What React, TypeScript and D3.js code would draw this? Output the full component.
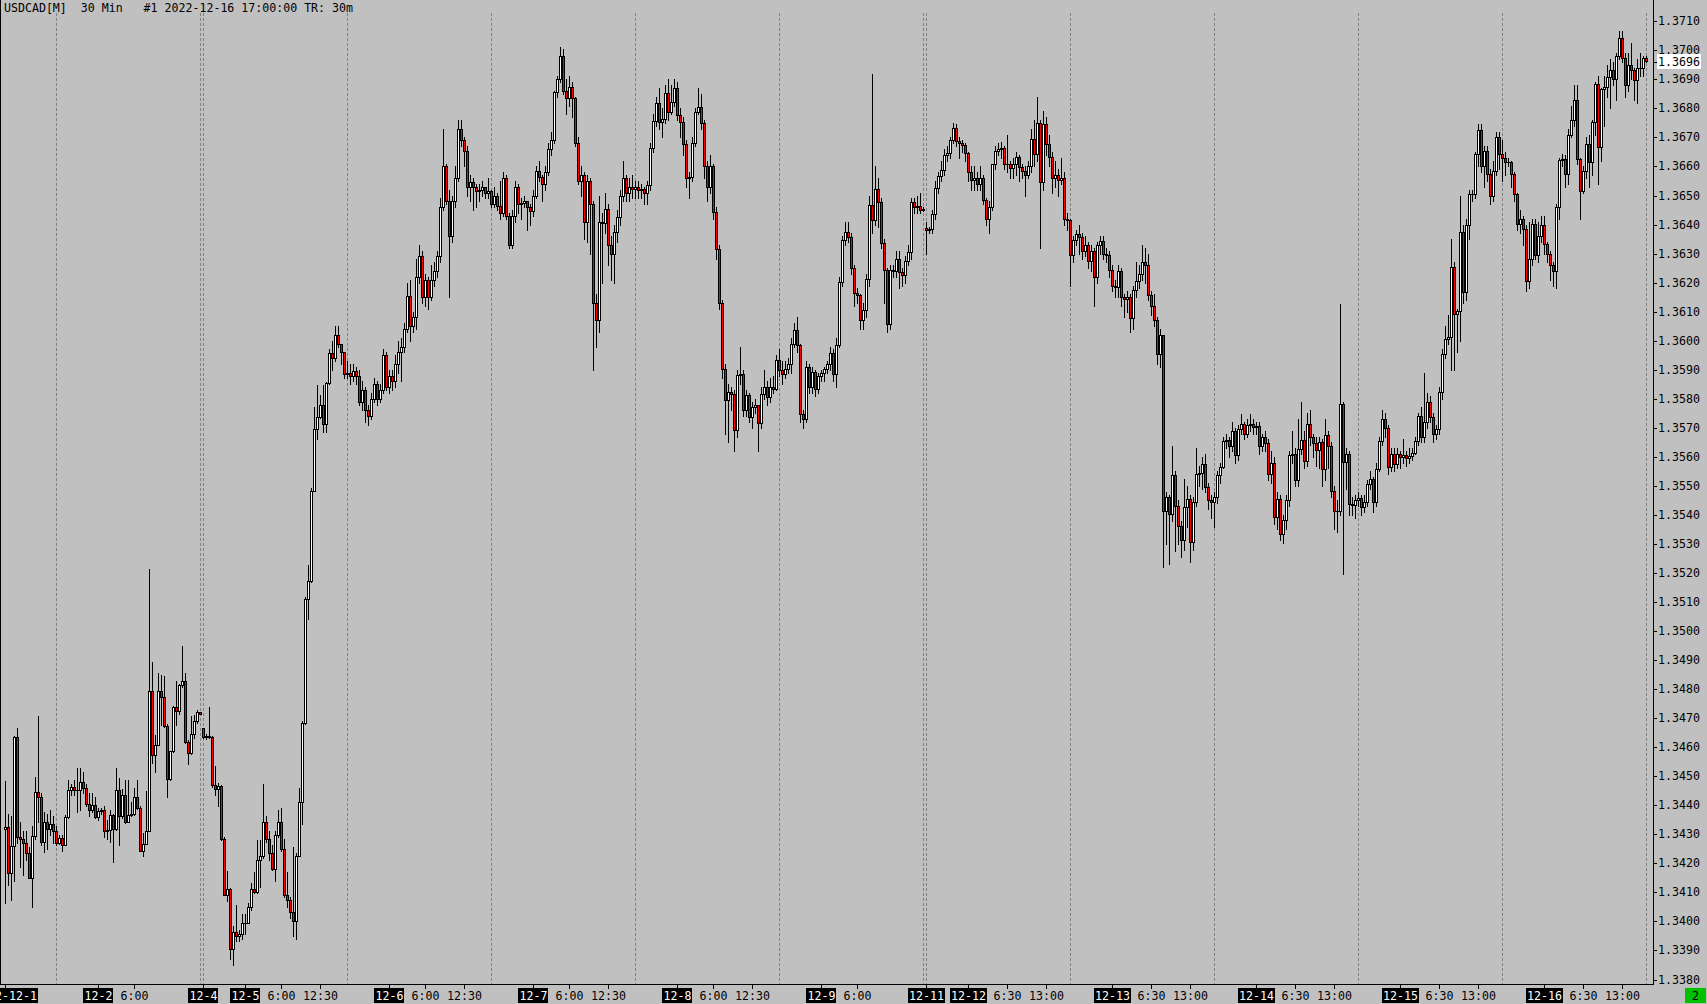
import React from 'react';
import * as d3 from 'd3';

// USDCAD[M] 30 min candles, 2022-12-01 .. 2022-12-16
// values are pips above 1.3000 (432.4 -> 1.34324)
const OPEN = [
  431.9, 432.4, 416.7, 425.9, 463.4, 429.1, 428.4, 427, 423.4, 414.9,
  429.4, 444.6, 442.7, 427.4, 434.1, 432, 433.4, 431, 427, 428.7,
  426.3, 435.9, 445.1, 446.3, 445.1, 445.4, 448.1, 445.9, 440.6, 438.4,
  440.1, 435.9, 438.1, 438.4, 431.3, 431.6, 436.6, 432, 445.1, 436.3,
  443.7, 434.4, 436.7, 437, 442.7, 439.1, 424.4, 426.7, 431.3, 479.4,
  457.4, 460.9, 479.4, 477.3, 467.4, 449.1, 458.7, 473.9, 472.3, 481.3,
  482.7, 461.7, 458.1, 464.6, 469, 472.1, 466.6, 463.4, 464, 463.4,
  447, 445.6, 446.7, 428.4, 409.1, 411, 390.6, 396.3, 394.9, 395.6,
  399.4, 399.6, 404.9, 411, 410.1, 421.3, 422.4, 434.1, 428.4, 423.4,
  418.1, 429.9, 434.1, 424.9, 409.1, 407.3, 403.4, 400.1, 422.7, 441.3,
  468.4, 511, 517.3, 548.4, 569.6, 573.7, 577.7, 571.3, 585.3, 595.6,
  594, 602, 599, 596, 588.5, 589, 588, 589.5, 588, 579,
  583, 576, 574, 580, 585, 580, 583, 595, 584, 588,
  586, 592, 596, 598, 604, 615.5, 605, 608, 622, 629,
  615, 621, 615, 621, 624, 629, 646, 660, 648, 636,
  648, 656, 673, 669, 665.5, 653, 654.7, 653, 651.5, 652,
  653, 651, 651.5, 647, 650, 646.5, 644, 656, 643, 633,
  643, 653, 647, 647.5, 648, 646, 644.5, 650, 658.5, 656.5,
  654, 658, 666, 669, 685.5, 690, 698, 686, 683.5, 687.5,
  683.5, 668, 655, 657, 641, 655, 647, 613, 607, 641,
  640.5, 645.5, 633, 629.8, 637.5, 642.7, 649.8, 655.9, 651, 653,
  652.4, 653, 651.8, 652.4, 650.7, 653.6, 666.2, 675.6, 682, 675.4,
  676.5, 685.4, 678.8, 682.3, 686.9, 677.7, 675.4, 667.9, 655.9, 656.4,
  668.1, 678.8, 680.5, 675, 660.2, 653, 660.2, 644.4, 631.7, 613.1,
  590.4, 579.5, 582.4, 581.8, 569.2, 588.1, 588.7, 576.1, 581.2, 573.8,
  577, 578, 571.5, 581.8, 584.1, 580.7, 584.1, 583.5, 593.5, 589.8,
  588.5, 590.4, 592, 599, 603.6, 598.4, 574.9, 573.2, 591, 584.1,
  589.3, 583.2, 588, 589, 590.4, 592.1, 595.8, 588.7, 598.4, 620.3,
  634.6, 637.5, 635.8, 624.9, 616.3, 615.7, 607.3, 610.7, 621.1, 646.7,
  641.5, 652.1, 647.8, 633.8, 624.3, 605.9, 624.3, 624, 628.3, 623.6,
  622.5, 627.6, 630.5, 647.7, 646, 646.5, 645, 638.9, 638.2, 638.6,
  643.7, 652.7, 656.6, 658.9, 663.8, 664.6, 669, 673.3, 668.7, 668,
  667.3, 664.6, 658.1, 655.4, 656, 653.8, 656.1, 648.3, 642, 646,
  660.7, 665.5, 666, 666.4, 660.9, 660.7, 659.6, 660.9, 663.2, 659.8,
  658.6, 657.2, 660, 669.5, 664.4, 674.9, 654.6, 674.7, 667.8, 663.2,
  656, 657, 655.5, 656, 642, 641.4, 629.4, 634.8, 636.8, 635.7,
  631, 633, 627.6, 631, 621.9, 633, 634.5, 630, 629.6, 624.2,
  619, 618.5, 624, 615, 614.5, 615.2, 607.8, 617.3, 620.7, 623,
  627.1, 626, 615.6, 612, 607, 595.5, 601.8, 541.5, 546.1, 540.2,
  553.9, 543.2, 536.3, 531.2, 542.7, 545.5, 530.6, 544.4, 554.2, 554.6,
  557.4, 549.6, 545.2, 544.3, 546, 553.6, 556.5, 565.6, 565.9, 563.6,
  568.8, 560.5, 569.6, 571.2, 567.9, 570.8, 571.4, 570.2, 570.6, 563.9,
  567, 564.6, 554.2, 558, 539.2, 545.5, 533.4, 538.1, 545.2, 560.5,
  561, 551.9, 562.8, 565.9, 558.5, 571.4, 566.8, 564.8, 562.2, 565,
  555.9, 567.4, 563.9, 548.4, 541.5, 541.3, 578.3, 558.2, 561, 543.9,
  543.3, 545.2, 545.8, 542.7, 544.4, 550.7, 552.5, 544.4, 555.9, 565.6,
  573.1, 570, 556.5, 561, 557.6, 561, 559.9, 560.5, 559.6, 560.2,
  561.4, 565.6, 574.2, 566.8, 572, 578.8, 573.7, 567.9, 569.5, 582.3,
  595.5, 600.7, 601.2, 625.3, 609.3, 610.4, 637.4, 616.7, 640, 650.4,
  650.6, 664.4, 672.4, 660.3, 665.5, 657.3, 650, 658.4, 670.3, 664.4,
  663, 661.4, 661.6, 657.3, 650.4, 640.3, 642, 638.5, 620.7, 628.2,
  640.3, 629.4, 635.9, 640, 633.2, 629.9, 625.9, 624, 646, 662.1,
  662.5, 657.5, 671, 675.9, 683, 662.7, 651.7, 658.6, 667.6, 661.5,
  675.3, 688.5, 666.7, 686.8, 687.3, 690.8, 693.3, 690.2, 697.9, 704.4,
  697.5, 687.9, 694.8, 693.1, 689.9, 694, 693.9, 697.4,
];

const HIGH = [
  448.4, 437, 436.3, 464, 466.6, 434.1, 431.3, 431, 425.6, 432.7,
  449.9, 470.6, 444.1, 437.7, 437, 438.4, 436.3, 432.7, 429.9, 429.9,
  436.7, 448.7, 447.3, 448.7, 452.7, 452.7, 451.3, 447.3, 444.4, 444.1,
  442.7, 439.1, 439.1, 439.9, 434.9, 438.4, 437, 453, 449.4, 445.6,
  448.7, 448.7, 441.3, 445.9, 448.7, 439.6, 430.6, 444.9, 521.3, 489.4,
  464.1, 485.6, 484.9, 484.6, 468, 458.7, 474.1, 482.7, 481.6, 494.9,
  485.6, 462.4, 470.6, 471, 472.7, 472.1, 466.6, 464.5, 473.9, 464,
  453.4, 447.7, 447, 429.1, 417.3, 411.6, 398.4, 405.6, 397, 402.7,
  402.7, 406.3, 413.4, 417, 428, 428, 447.4, 436.3, 431.3, 426.3,
  431, 438.4, 439.1, 428.4, 417, 408.4, 425.6, 423.4, 445.9, 469.1,
  511.6, 522.7, 549.1, 577, 584.9, 581.3, 584.9, 585.9, 597.3, 600,
  605, 605, 599, 596, 593, 592, 592, 591, 590, 586,
  584, 578, 582, 587, 586, 585, 597, 596, 590, 590,
  595, 600, 601, 606, 620, 621, 610, 628, 633, 631,
  623, 622, 626, 627, 631, 649, 673, 661, 652, 650,
  660, 676, 676, 670, 667, 657, 656, 654, 654, 655,
  653, 656, 652, 653, 651, 655, 658, 657, 644, 645,
  655, 654, 649, 650, 648, 647, 652, 660, 662, 657,
  660, 668, 672, 686, 691, 701, 700.5, 690, 691, 689,
  684, 670, 660, 658, 657, 656, 648, 616, 650, 644,
  651, 647, 636, 640, 645, 652, 662, 657, 656, 657,
  655, 655, 654, 653, 655, 668, 678, 684, 687, 680,
  688, 690, 688, 690, 689, 680, 677, 669, 658, 670,
  680, 687, 685, 676, 662, 664, 661, 646, 633, 614,
  592, 585, 584, 583, 590, 598, 590, 583, 582, 579,
  580, 578, 584, 590, 586, 587, 588, 595, 597, 593,
  593, 594, 601, 606, 608, 599, 576, 593, 592, 591,
  590, 589, 590, 591, 593, 598, 597, 601, 622, 636,
  641, 641, 637, 626, 618, 616, 613, 623, 650, 692,
  660, 656, 649, 635, 625, 626, 626, 631, 631, 625,
  629, 633, 649, 649, 650, 651, 646, 641, 639, 645,
  655, 658, 662, 666, 667, 670, 675, 674.7, 670, 669,
  668, 665, 660, 660, 658, 660, 657, 649, 648, 661,
  667, 668, 668.4, 667, 670.7, 662, 663, 665, 664, 661,
  660, 662, 673, 676, 683.9, 676, 679, 677, 671, 665,
  662, 659, 663, 658, 644, 642, 636, 638, 640, 637,
  636, 634, 633, 632, 634, 636, 636, 632, 631, 626,
  621, 626, 625, 616, 617, 616, 619, 627, 626, 633,
  632, 630, 617, 616, 608, 604, 602, 548, 547, 563.9,
  555, 545, 538, 552.4, 550, 547, 546, 563, 557, 560,
  561, 551, 547, 548, 555, 558, 567, 568, 567, 572,
  570, 571, 574.8, 572, 573, 574.8, 573, 572, 572, 568,
  569, 566, 562, 560, 548, 547, 540, 547, 562, 569,
  563, 573, 579, 569, 575, 576, 568, 567, 567, 566,
  573, 569, 565, 550, 545, 612.7, 579, 563, 562, 546,
  547, 548, 547, 547, 552, 555, 553, 558, 567, 576,
  575, 571, 563, 563, 563, 562, 566, 562, 563, 563,
  567, 575, 577, 589, 582, 581, 575, 571, 584, 597,
  605, 609, 635, 627, 611, 650, 640, 642, 652, 652,
  665, 674.5, 674.5, 667, 667, 659, 662, 672, 672, 669,
  665, 663, 662, 658, 651, 645, 643, 640, 641, 642,
  642, 641, 643, 643, 634, 631, 627, 647, 663, 664.4,
  664, 673, 681, 688, 688, 663, 660, 670, 671, 676,
  689, 691, 687, 691, 695, 697, 696, 699, 706.5, 706.5,
  699, 699, 702.5, 694, 697, 699, 698, 698,
];

const LOW = [
  406.3, 412.7, 407.3, 414, 427, 418.7, 415.9, 421.3, 414.9, 405.1,
  428.4, 434.1, 426.3, 423.9, 424.9, 429.9, 427, 426.3, 426.7, 424.4,
  426.3, 435.6, 443.4, 443.4, 437.7, 438.4, 444.1, 439.9, 436.3, 437.7,
  435.6, 434.9, 437, 429.1, 428.4, 427.3, 420.6, 431.6, 426.3, 435.6,
  433.9, 434.1, 436.3, 436.7, 438.7, 424.1, 422.7, 426.7, 431.3, 454.4,
  451.3, 460.6, 467.7, 467, 442.7, 448.7, 458.4, 467.7, 471.6, 480.6,
  461.3, 454.1, 457.7, 463, 468.4, 471.3, 463, 462.7, 463, 446.3,
  443.4, 439.6, 428.1, 409, 407, 387, 384.9, 393.4, 393.4, 394.1,
  395.6, 399.4, 404.1, 409.9, 409.9, 412, 422, 427.4, 421.3, 417.7,
  413.9, 429.1, 424.4, 408.4, 404.9, 401.3, 394.9, 394.1, 422.4, 433.4,
  468.1, 504.1, 517, 548.1, 566.3, 573.4, 568.7, 568.4, 585.1, 590,
  593, 598, 592, 587, 587, 585, 586, 585, 578, 576,
  572, 571, 573, 579, 578, 579, 582, 583, 582, 583,
  584, 589, 586, 596, 603, 600, 603, 604, 620, 613,
  612, 611, 614, 619, 622, 627, 645, 647, 615, 634,
  646, 655, 667, 660, 650, 648, 645, 646, 648, 650,
  649, 649, 646, 646, 645, 642, 643, 642, 632, 632,
  641, 644, 642, 646, 638, 640, 643, 649, 655, 648,
  652, 657, 664, 668, 684, 689, 685, 678, 681, 677,
  667, 654, 650, 635, 634, 630, 590, 598, 603, 620,
  637, 626, 621, 620, 634, 640, 648, 648, 648, 649,
  649, 649, 649, 647, 647, 652, 665, 674, 673, 670,
  675, 676, 678, 681, 676, 670, 664, 653, 649, 655,
  667, 678, 673, 656, 648, 651, 642, 628, 611, 587,
  568, 565, 576, 562, 567, 585, 574, 574, 572, 570,
  575, 562, 570, 580, 578, 579, 582, 583, 588, 585,
  587, 589, 589, 598, 596, 572, 570, 572, 582, 582,
  581, 582, 586, 586, 589, 590, 586, 584, 598, 619,
  633, 634, 623, 612, 613, 604, 604, 608, 619, 637,
  640, 639, 632, 613, 603, 604, 622, 622, 618, 619,
  620, 626, 628, 644, 644, 644, 644.8, 630, 637, 637,
  642, 651, 655, 657, 662, 663, 668, 667, 663, 665,
  662, 655, 652, 652, 652, 652, 647, 640, 637, 645,
  659, 664, 663, 659, 658, 656, 656, 657, 655, 656,
  650, 656, 658, 660, 662, 632, 652, 664, 660, 651,
  653, 650, 654, 640, 638, 619, 627, 633, 630, 628,
  629, 625, 624, 612, 620, 630, 628, 627, 622, 617,
  615, 615, 612, 608, 610, 603, 604, 615, 618, 621,
  620, 614, 609, 605, 592, 591, 522, 530, 523.2, 538,
  527.7, 530, 525.4, 528, 536, 523.7, 528, 543, 550, 549,
  548, 542, 539, 536, 544, 551, 556, 563, 560, 562,
  558, 559, 568, 566, 567, 569, 568, 568, 561, 562,
  562, 552, 551, 537, 535, 531.5, 530.4, 535, 543, 558,
  550, 550, 561, 556, 557, 564, 560, 557, 556, 550,
  552, 556, 546, 535, 534.2, 540, 519.7, 549, 540, 540,
  539, 543, 540, 541, 543, 549, 541, 543, 555, 564,
  567, 554, 555, 555, 556, 556, 558, 557, 558, 559,
  561, 564, 565, 565, 570, 572, 565, 566, 568, 580,
  594, 599, 590, 590, 596, 600, 613, 614, 635, 648,
  649, 660, 658, 653, 655, 647, 648, 657, 659, 655,
  657, 660, 653, 648, 638, 637, 633, 617, 618, 626,
  628, 627, 634, 630, 627, 621, 619, 618, 642, 660,
  653, 654, 670, 674, 661, 642, 651, 656, 653, 657,
  671, 654, 662, 674, 684, 680, 688, 683, 697, 696,
  684, 686, 690, 683, 682, 691, 691, 696,
];

const CLOSE = [
  432.4, 416.7, 425.9, 463.4, 429.1, 428.4, 427, 423.4, 414.9, 429.4,
  444.6, 442.7, 427.4, 434.1, 432, 433.4, 431, 427, 428.7, 426.3,
  435.9, 445.1, 446.3, 445.1, 445.4, 448.1, 445.9, 440.6, 438.4, 440.1,
  435.9, 438.1, 438.4, 431.3, 431.6, 436.6, 432, 445.1, 436.3, 443.7,
  434.4, 436.7, 437, 442.7, 439.1, 424.4, 426.7, 431.3, 479.4, 457.4,
  460.9, 479.4, 477.3, 467.4, 449.1, 458.7, 473.9, 472.3, 481.3, 482.7,
  461.7, 458.1, 464.6, 469, 472.1, 471.6, 463.4, 464, 463.4, 447,
  445.6, 446.7, 428.4, 409.1, 411, 390.6, 396.3, 394.9, 395.6, 399.4,
  399.6, 404.9, 411, 410.1, 421.3, 422.4, 434.1, 428.4, 423.4, 418.1,
  429.9, 434.1, 424.9, 409.1, 407.3, 403.4, 400.1, 422.7, 441.3, 468.4,
  511, 517.3, 548.4, 569.6, 573.7, 577.7, 571.3, 585.3, 595.6, 594,
  602, 599, 596, 588.5, 589, 588, 589.5, 588, 579, 583,
  576, 574, 580, 585, 580, 583, 595, 584, 588, 586,
  592, 596, 598, 604, 615.5, 605, 608, 622, 629, 615,
  621, 615, 621, 624, 629, 646, 660, 648, 636, 648,
  656, 673, 669, 665.5, 653, 654.7, 653, 651.5, 652, 653,
  651, 651.5, 647, 650, 646.5, 644, 656, 643, 633, 643,
  653, 647, 647.5, 648, 646, 644.5, 650, 658.5, 656.5, 654,
  658, 666, 669, 685.5, 690, 698, 686, 683.5, 687.5, 683.5,
  668, 655, 657, 641, 655, 647, 613, 607, 641, 640.5,
  645.5, 633, 629.8, 637.5, 642.7, 649.8, 655.9, 651, 653, 652.4,
  653, 651.8, 652.4, 650.7, 653.6, 666.2, 675.6, 682, 675.4, 676.5,
  685.4, 678.8, 682.3, 686.9, 677.7, 675.4, 667.9, 655.9, 656.4, 668.1,
  678.8, 680.5, 675, 660.2, 653, 660.2, 644.4, 631.7, 613.1, 590.4,
  579.5, 582.4, 581.8, 569.2, 588.1, 588.7, 576.1, 581.2, 573.8, 577,
  578, 571.5, 581.8, 584.1, 580.7, 584.1, 583.5, 593.5, 589.8, 588.5,
  590.4, 592, 599, 603.6, 598.4, 574.9, 573.2, 591, 584.1, 589.3,
  583.2, 588, 589, 590.4, 592.1, 595.8, 588.7, 598.4, 620.3, 634.6,
  637.5, 635.8, 624.9, 616.3, 615.7, 607.3, 610.7, 621.1, 646.7, 641.5,
  652.1, 647.8, 633.8, 624.3, 605.9, 624.3, 624, 628.3, 623.6, 622.5,
  627.6, 630.5, 647.7, 646, 646.5, 645, 645.4, 638.2, 638.6, 643.7,
  652.7, 656.6, 658.9, 663.8, 664.6, 669, 673.3, 668.7, 668, 667.3,
  664.6, 658.1, 655.4, 656, 653.8, 656.1, 648.3, 642, 646, 660.7,
  665.5, 666, 666.4, 660.9, 660.7, 659.6, 660.9, 663.2, 659.8, 658.6,
  657.2, 660, 669.5, 664.4, 674.9, 654.6, 674.7, 667.8, 663.2, 656,
  657, 655.5, 656, 642, 641.4, 629.4, 634.8, 636.8, 635.7, 631,
  633, 627.6, 631, 621.9, 633, 634.5, 630, 629.6, 624.2, 619,
  618.5, 624, 615, 614.5, 615.2, 607.8, 617.3, 620.7, 623, 627.1,
  626, 615.6, 612, 607, 595.5, 601.8, 541.5, 546.1, 540.2, 553.9,
  543.2, 536.3, 531.2, 542.7, 545.5, 530.6, 544.4, 554.2, 554.6, 557.4,
  549.6, 545.2, 544.3, 546, 553.6, 556.5, 565.6, 565.9, 563.6, 568.8,
  560.5, 569.6, 571.2, 567.9, 570.8, 571.4, 570.2, 570.6, 563.9, 567,
  564.6, 554.2, 558, 539.2, 545.5, 533.4, 538.1, 545.2, 560.5, 561,
  551.9, 562.8, 565.9, 558.5, 571.4, 566.8, 564.8, 562.2, 565, 555.9,
  567.4, 563.9, 548.4, 541.5, 541.3, 578.3, 558.2, 561, 543.9, 543.3,
  545.2, 545.8, 542.7, 544.4, 550.7, 552.5, 544.4, 555.9, 565.6, 573.1,
  570, 556.5, 561, 557.6, 561, 559.9, 560.5, 559.6, 560.2, 561.4,
  565.6, 574.2, 566.8, 572, 578.8, 573.7, 567.9, 569.5, 582.3, 595.5,
  600.7, 601.2, 625.3, 609.3, 610.4, 637.4, 616.7, 640, 650.4, 650.6,
  664.4, 672.4, 660.3, 665.5, 657.3, 650, 658.4, 670.3, 664.4, 663,
  661.4, 661.6, 657.3, 650.4, 640.3, 642, 638.5, 620.7, 628.2, 640.3,
  629.4, 635.9, 640, 633.2, 629.9, 625.9, 624, 646, 662.1, 662.5,
  657.5, 671, 675.9, 683, 662.7, 651.7, 658.6, 667.6, 661.5, 675.3,
  688.5, 666.7, 686.8, 687.3, 690.8, 693.3, 690.2, 697.9, 704.4, 697.5,
  687.9, 694.8, 693.1, 689.9, 694, 693.9, 697.4, 696.4,
];

const PRICE_LEVELS = [
  1.338, 1.339, 1.340, 1.341, 1.342, 1.343, 1.344, 1.345, 1.346, 1.347,
  1.348, 1.349, 1.350, 1.351, 1.352, 1.353, 1.354, 1.355, 1.356, 1.357,
  1.358, 1.359, 1.360, 1.361, 1.362, 1.363, 1.364, 1.365, 1.366, 1.367,
  1.368, 1.369, 1.370, 1.371,
];

// [bar index, label, is a date label]
const TIME_LABELS: [number, string, boolean][] = [
  [0, '2022-12-1', true], [31, '12-2', true], [43, '6:00', false],
  [66, '12-4', true], [80, '12-5', true], [92, '6:00', false], [105, '12:30', false],
  [128, '12-6', true], [140, '6:00', false], [153, '12:30', false],
  [176, '12-7', true], [188, '6:00', false], [201, '12:30', false],
  [224, '12-8', true], [236, '6:00', false], [249, '12:30', false],
  [272, '12-9', true], [284, '6:00', false],
  [307, '12-11', true], [321, '12-12', true], [334, '6:30', false], [347, '13:00', false],
  [369, '12-13', true], [382, '6:30', false], [395, '13:00', false],
  [417, '12-14', true], [430, '6:30', false], [443, '13:00', false],
  [465, '12-15', true], [478, '6:30', false], [491, '13:00', false],
  [513, '12-16', true], [526, '6:30', false], [539, '13:00', false],
];

const GRID_BARS = [17, 65, 66, 114, 162, 210, 258, 306, 307, 355, 403, 451, 499, 547];

const TITLE = 'USDCAD[M]  30 Min   #1 2022-12-16 17:00:00 TR: 30m';
const LAST_PRICE = 1.3696;
const BADGE = '2';

const W = 1707;
const H = 1004;
const PLOT_RIGHT = 1653;
const PLOT_BOTTOM = 984;
const CHAR_W = 7;
const FONT = '"DejaVu Sans Mono", "Liberation Mono", monospace';
const FONT_SIZE = 11.6;

const toPrice = (v: number) => 1.3 + v / 10000;

export default function App() {
  const n = CLOSE.length;
  const x = d3.scaleLinear().domain([0, n - 1]).range([5, 5 + 3 * (n - 1)]);
  const y = d3.scaleLinear().domain([1.338, 1.371]).range([979.5, 21.3]);
  const fmt = d3.format('.4f');
  const py = (v: number) => Math.round(y(toPrice(v)));

  const candles = CLOSE.map((c, i) => {
    const o = OPEN[i];
    const cx = Math.round(x(i));
    const hi = py(Math.max(HIGH[i], o, c));
    const lo = py(Math.min(LOW[i], o, c));
    const top = py(Math.max(o, c));
    const bot = py(Math.min(o, c));
    const bull = c >= o;
    const bh = Math.max(1, bot - top + 1);
    return (
      <g key={i}>
        <rect x={cx} y={hi} width={1} height={lo - hi + 1} fill="#000" />
        <rect x={cx - 1} y={top} width={3} height={bh} fill="#000" />
        {bh >= 3 && (
          <rect x={cx} y={top + 1} width={1} height={bh - 2} fill={bull ? '#fff' : '#ff0000'} />
        )}
      </g>
    );
  });

  const lastY = Math.round(y(LAST_PRICE));

  return (
    <div style={{ position: 'absolute', left: 0, top: 0, width: W, height: H, overflow: 'hidden' }}>
      <svg width={W} height={H} style={{ display: 'block', background: '#c0c0c0' }}
        fontFamily={FONT} fontSize={FONT_SIZE} shapeRendering="crispEdges">
        <rect x={0} y={0} width={W} height={H} fill="#c0c0c0" />

        {/* vertical grid */}
        {GRID_BARS.map((b) => {
          const gx = Math.round(x(b)) + 0.5;
          return (
            <line key={'g' + b} x1={gx} x2={gx} y1={13} y2={PLOT_BOTTOM}
              stroke="#808080" strokeWidth={1} strokeDasharray="3,2" />
          );
        })}

        {/* candles */}
        {candles}

        {/* frame */}
        <rect x={0} y={0} width={1} height={PLOT_BOTTOM + 1} fill="#000" />
        <rect x={0} y={PLOT_BOTTOM} width={PLOT_RIGHT + 1} height={1} fill="#000" />
        <rect x={PLOT_RIGHT} y={0} width={1} height={PLOT_BOTTOM + 1} fill="#000" />

        {/* price axis */}
        {PRICE_LEVELS.map((p) => {
          const ty = Math.round(y(p));
          return (
            <g key={'p' + p}>
              <rect x={PLOT_RIGHT + 1} y={ty} width={3} height={1} fill="#000" />
              <text x={PLOT_RIGHT + 5} y={ty + 4} fill="#000">{fmt(p)}</text>
            </g>
          );
        })}
        <rect x={PLOT_RIGHT + 4} y={lastY - 8} width={44} height={15} fill="#fff" />
        <rect x={PLOT_RIGHT + 1} y={lastY} width={3} height={1} fill="#000" />
        <text x={PLOT_RIGHT + 5} y={lastY + 4} fill="#000">{fmt(LAST_PRICE)}</text>

        {/* time axis */}
        {TIME_LABELS.map(([b, label, isDate]) => {
          const tx = Math.round(x(b));
          const tw = label.length * CHAR_W;
          return (
            <g key={'t' + b}>
              <rect x={tx} y={PLOT_BOTTOM + 1} width={1} height={4} fill="#000" />
              {isDate && (
                <rect x={tx - tw / 2 - 1} y={988} width={tw + 2} height={15} fill="#000" />
              )}
              <text x={tx + 0.5} y={1000} textAnchor="middle" fill={isDate ? '#fff' : '#000'}>
                {label}
              </text>
            </g>
          );
        })}

        {/* badge */}
        <rect x={1685} y={988} width={21} height={15} fill="#00c000" />
        <text x={1695.5} y={1000} textAnchor="middle" fill="#000">{BADGE}</text>

        {/* title */}
        <text x={4} y={12} fill="#000" style={{ whiteSpace: 'pre' }} xmlSpace="preserve">{TITLE}</text>
      </svg>
    </div>
  );
}
